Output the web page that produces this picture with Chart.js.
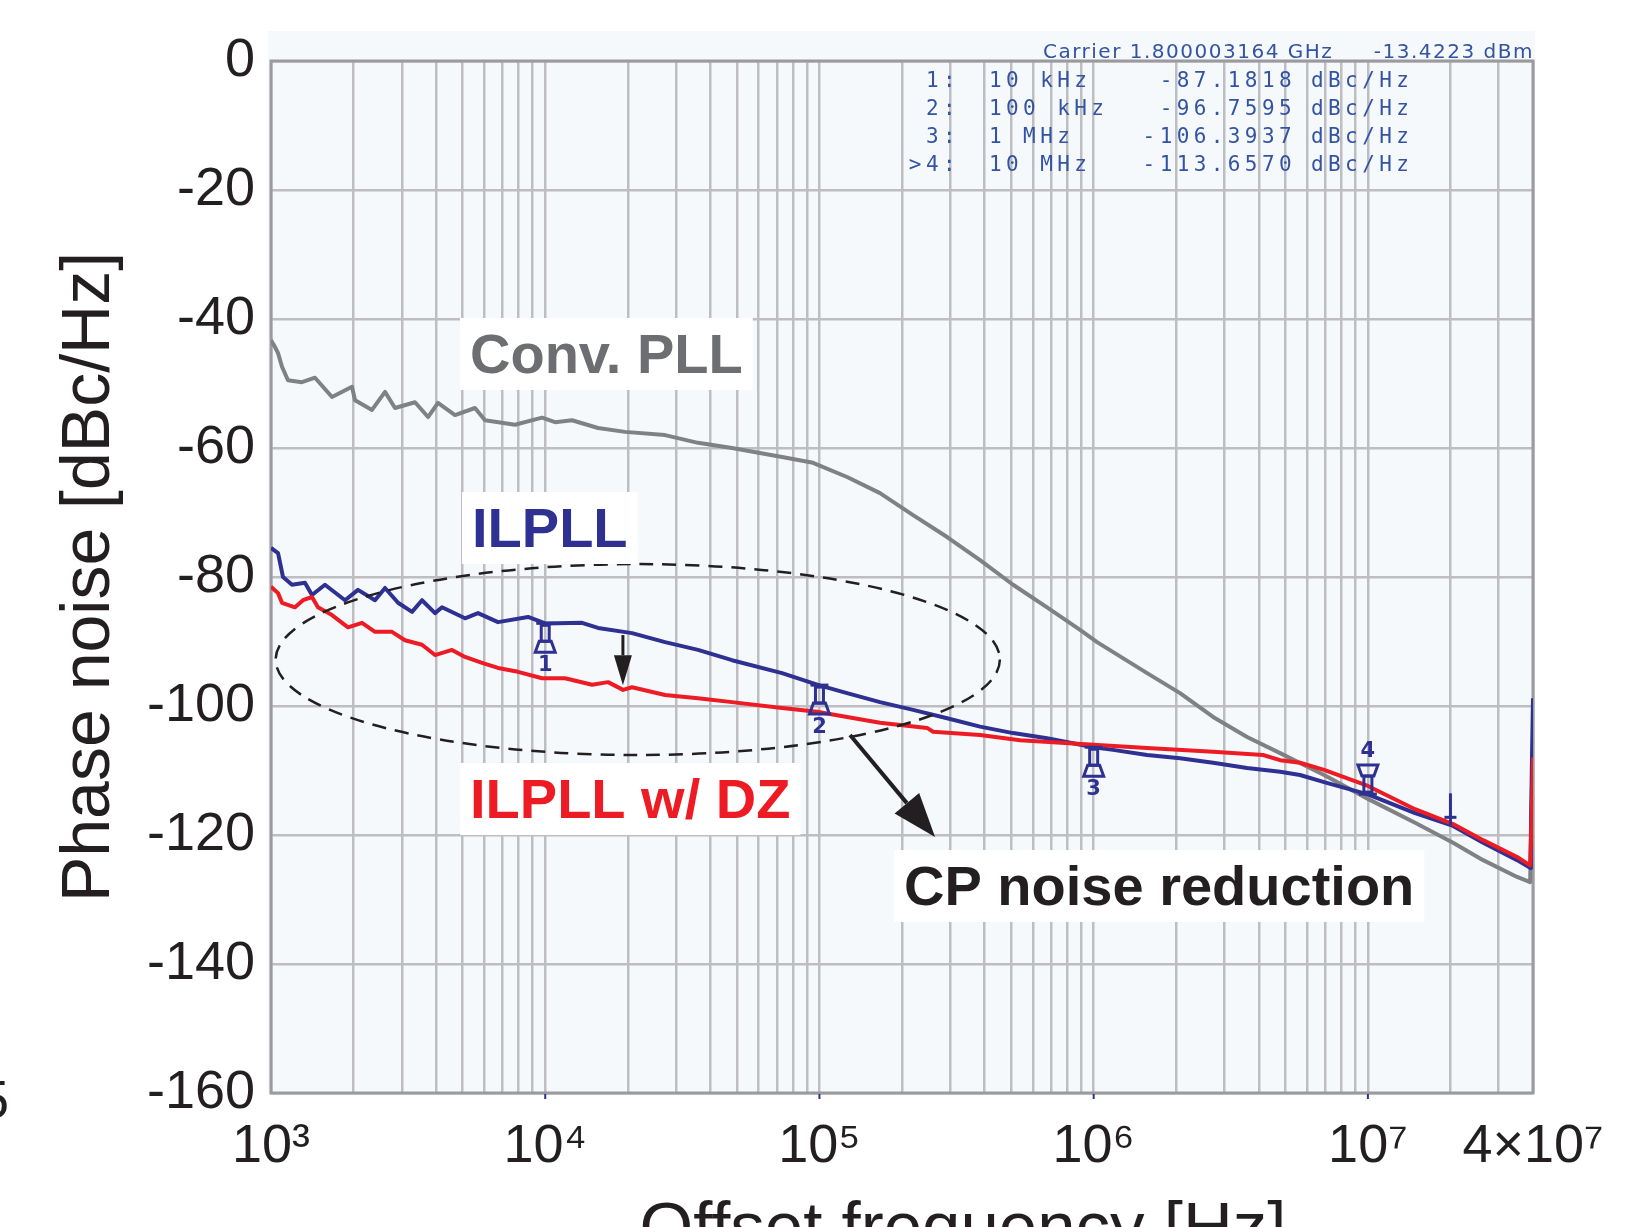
<!DOCTYPE html>
<html>
<head>
<meta charset="utf-8">
<script src="https://cdn.jsdelivr.net/npm/chart.js@4.4.0/dist/chart.umd.min.js"></script>
<style>
  html, body { margin: 0; padding: 0; background: #fff; overflow: hidden; }
  #wrap { width: 1652px; height: 1227px; }
</style>
</head>
<body>
<div id="wrap"><canvas id="chart" width="1652" height="1227"></canvas></div>
<script>
const FONT = "'Liberation Sans', Arial, Helvetica, sans-serif";
const INK = '#231f20';
const GRAY = '#808184', BLUE = '#2e3192', RED = '#ed1c24';
const GRID = '#bdbdc2';

// Conv. PLL
const convFreq = [1000, 1030, 1061, 1097, 1153, 1297, 1447, 1669, 1974, 2025, 2335, 2605, 2833, 3351, 3738, 4064, 4688, 5546, 6032, 7762, 9734, 10860, 12520, 15580, 19550, 27350, 36080, 48000, 73050, 94760, 126100, 166300, 219500, 292100, 385200, 508300, 676100, 892000, 1029000, 1566000, 2065000, 2725000, 3626000, 4784000, 6923000, 10000000, 14860000, 20450000, 26310000, 35010000, 39050000, 39400000, 40000000];
const convNoise = [-43.3, -44.2, -45.3, -47.4, -49.5, -49.8, -49.1, -52.1, -50.5, -52.6, -54.1, -51.3, -53.8, -52.9, -55.2, -53, -54.9, -53.8, -55.7, -56.4, -55.3, -56, -55.7, -56.9, -57.5, -58, -59.2, -60, -61.4, -62.3, -64.5, -67, -70.4, -73.8, -77.4, -81.2, -84.7, -88.2, -90.1, -94.9, -98, -101.7, -104.8, -107.3, -110.7, -114.4, -118.1, -121.2, -123.9, -126.5, -127.3, -118, -105];

// ILPLL
const ilFreq = [1000, 1061, 1106, 1193, 1330, 1411, 1573, 1862, 2076, 2395, 2605, 2906, 3268, 3554, 3964, 4204, 5099, 5687, 6728, 8656, 10000, 13620, 15580, 20730, 27350, 36080, 48000, 73050, 100000, 126100, 166300, 219500, 292100, 385200, 508300, 676100, 1000000, 1177000, 1566000, 2065000, 2725000, 3626000, 4784000, 5657000, 6923000, 10000000, 14860000, 20450000, 26310000, 35010000, 39050000, 39300000, 39600000, 40000000];
const ilNoise = [-75.5, -76.3, -80, -81.2, -80.9, -82.8, -81.2, -83.6, -82, -83.6, -81.7, -84, -85.4, -83.6, -85.6, -84.7, -86.4, -85.6, -87, -86.2, -87.2, -87.1, -87.9, -88.7, -90.1, -91.3, -92.9, -94.9, -96.8, -98, -99.4, -100.6, -101.9, -103.2, -104.2, -105, -106.4, -106.8, -107.6, -108.1, -108.8, -109.6, -110.2, -110.7, -111.8, -113.7, -116.6, -118.6, -121.2, -123.9, -125.1, -120, -110, -98.8];

// ILPLL w/ DZ
const dzFreq = [1000, 1061, 1097, 1223, 1308, 1411, 1483, 1669, 1909, 2147, 2395, 2762, 3081, 3554, 3964, 4572, 5099, 5882, 6728, 7960, 9734, 11810, 14820, 16950, 19220, 20730, 27350, 36080, 48000, 73050, 98000, 126100, 166300, 246900, 259700, 385200, 539000, 1000000, 1566000, 2725000, 4148000, 4784000, 5657000, 6923000, 10000000, 14860000, 20450000, 26310000, 35010000, 39050000, 39500000, 40000000];
const dzNoise = [-81.5, -82.5, -84, -84.7, -83.6, -83.1, -84.7, -85.9, -87.8, -87.1, -88.5, -88.5, -89.8, -90.5, -92.1, -91.3, -92.4, -93.3, -94.1, -94.7, -95.7, -95.7, -96.7, -96.3, -97.5, -97.1, -98.3, -98.8, -99.4, -100.3, -100.9, -101.7, -102.6, -103.4, -104, -104.5, -105.3, -106, -106.5, -107.1, -107.6, -108.4, -108.8, -109.9, -112.4, -116, -118.3, -120.8, -123.4, -124.7, -118, -108];

// analyzer markers (on ILPLL trace)
const markerFreq = [1e4, 1e5, 1e6, 1e7, 2e7];
const markerValue = [-87.1818, -96.7595, -106.3937, -113.6570, -118.5];
const markerName = ['1', '2', '3', '4', ''];
const markerIndex = ['1:', '2:', '3:', '>4:'];
const markerFreqText = ['10 kHz', '100 kHz', '1 MHz', '10 MHz'];

// axis ticks
const xGridValues = [1e3, 2e3, 3e3, 4e3, 5e3, 6e3, 7e3, 8e3, 9e3,
  1e4, 2e4, 3e4, 4e4, 5e4, 6e4, 7e4, 8e4, 9e4,
  1e5, 2e5, 3e5, 4e5, 5e5, 6e5, 7e5, 8e5, 9e5,
  1e6, 2e6, 3e6, 4e6, 5e6, 6e6, 7e6, 8e6, 9e6,
  1e7, 2e7, 3e7, 4e7];
const xLabelValues = [1e3, 1e4, 1e5, 1e6, 1e7, 4e7];
const xLabelTexts = ['10³', '10⁴', '10⁵', '10⁶', '10⁷', '4×10⁷'];

function pts(fs, vs) { return fs.map((f, i) => ({ x: f, y: vs[i] })); }

function arrow(ctx, x1, y1, x2, y2, lw, hl, hw) {
  const a = Math.atan2(y2 - y1, x2 - x1);
  const bx = x2 - hl * Math.cos(a), by = y2 - hl * Math.sin(a);
  ctx.lineWidth = lw;
  ctx.beginPath(); ctx.moveTo(x1, y1); ctx.lineTo(bx, by); ctx.stroke();
  ctx.beginPath();
  ctx.moveTo(x2, y2);
  ctx.lineTo(bx + hw / 2 * Math.sin(a), by - hw / 2 * Math.cos(a));
  ctx.lineTo(bx - hw / 2 * Math.sin(a), by + hw / 2 * Math.cos(a));
  ctx.closePath(); ctx.fill();
}

function tag(ctx, text, color, x, y) {
  ctx.font = 'bold 56px ' + FONT;
  const w = ctx.measureText(text).width;
  ctx.fillStyle = '#fff';
  ctx.fillRect(x - 10, y - 55, w + 20, 72);
  ctx.fillStyle = color;
  ctx.textAlign = 'left';
  ctx.textBaseline = 'alphabetic';
  ctx.fillText(text, x, y);
}

function marker(ctx, x, y, name, up) {
  const s = up ? -1 : 1;
  ctx.strokeStyle = BLUE; ctx.fillStyle = BLUE; ctx.lineWidth = 3;
  if (!name) {
    ctx.beginPath(); ctx.moveTo(x, y); ctx.lineTo(x, y - 32); ctx.stroke();
    ctx.beginPath(); ctx.moveTo(x - 6, y - 8); ctx.lineTo(x + 6, y - 8); ctx.stroke();
    return;
  }
  ctx.beginPath(); ctx.moveTo(x - 9, y); ctx.lineTo(x + 9, y); ctx.stroke();
  ctx.strokeRect(x - 4, Math.min(y + s * 2, y + s * 18), 8, 16);
  ctx.beginPath();
  ctx.moveTo(x - 6, y + s * 18); ctx.lineTo(x + 6, y + s * 18);
  ctx.lineTo(x + 10, y + s * 29); ctx.lineTo(x - 10, y + s * 29); ctx.closePath();
  ctx.stroke();
  ctx.font = 'bold 21px "DejaVu Sans", sans-serif';
  ctx.textAlign = 'center';
  ctx.textBaseline = up ? 'bottom' : 'top';
  ctx.fillText(name, x, y + s * 32);
}

const decor = {
  id: 'decor',
  beforeDraw(chart) {
    const { ctx, chartArea: a } = chart;
    ctx.save();
    ctx.fillStyle = '#fff';
    ctx.fillRect(0, 0, chart.width, chart.height);
    ctx.fillStyle = '#f6f9fc';
    ctx.fillRect(a.left - 3, a.top - 30, a.right - a.left + 5, a.bottom - a.top + 30);
    ctx.restore();
  },
  beforeDatasetsDraw(chart) {
    const { ctx, chartArea: a } = chart;
    const xs = chart.scales.x;
    ctx.save();
    ctx.strokeStyle = '#9a9a9f';
    ctx.lineWidth = 3;
    ctx.strokeRect(a.left, a.top, a.right - a.left, a.bottom - a.top);
    ctx.strokeStyle = BLUE; ctx.lineWidth = 2;
    markerFreq.slice(0, 4).forEach(f => {
      const x = xs.getPixelForValue(f);
      ctx.beginPath(); ctx.moveTo(x, a.bottom + 1); ctx.lineTo(x, a.bottom + 6); ctx.stroke();
    });
    ctx.restore();
  },
  afterDatasetsDraw(chart) {
    const { ctx } = chart;
    const xs = chart.scales.x, ys = chart.scales.y;
    const px = f => xs.getPixelForValue(f), py = v => ys.getPixelForValue(v);
    ctx.save();

    // dashed ellipse around the in-band region
    const l = px(1.04e3), r = px(4.55e5), t = py(-78), b = py(-107.6);
    ctx.strokeStyle = INK; ctx.lineWidth = 2.5; ctx.setLineDash([14, 9]);
    ctx.beginPath();
    ctx.ellipse((l + r) / 2, (t + b) / 2, (r - l) / 2, (b - t) / 2, 0, 0, Math.PI * 2);
    ctx.stroke();
    ctx.setLineDash([]);

    // arrows
    ctx.strokeStyle = INK; ctx.fillStyle = INK;
    arrow(ctx, px(1.92e4), py(-89), px(1.92e4), py(-96.8), 3, 30, 18);
    arrow(ctx, px(1.293e5), py(-104.5), px(2.64e5), py(-120.3), 4, 44, 32);

    // markers
    markerFreq.forEach((f, i) => marker(ctx, px(f), py(markerValue[i]), markerName[i], i === 3));

    // curve labels
    tag(ctx, 'Conv. PLL', '#6d6e71', px(5318), py(-48.37));
    tag(ctx, 'ILPLL', BLUE, px(5408), py(-75.35));
    tag(ctx, 'ILPLL w/ DZ', RED, px(5318), py(-117.36));
    tag(ctx, 'CP noise reduction', INK, px(2.034e5), py(-130.85));

    // analyzer header and marker table
    const a = chart.chartArea;
    ctx.fillStyle = '#3353a3';
    ctx.textBaseline = 'alphabetic';
    ctx.font = '20px "DejaVu Sans", sans-serif';
    ctx.letterSpacing = '1.5px';
    ctx.textAlign = 'left';
    ctx.fillText('Carrier 1.800003164 GHz', 1043, a.top - 3);
    ctx.textAlign = 'right';
    ctx.fillText('-13.4223 dBm', a.right + 1, a.top - 3);
    ctx.font = '21px "DejaVu Sans Mono", monospace';
    ctx.letterSpacing = '4.4px';
    markerIndex.forEach((m, i) => {
      const y = a.top + 26 + i * 28;
      ctx.textAlign = 'right'; ctx.fillText(m, 960, y);
      ctx.textAlign = 'left'; ctx.fillText(markerFreqText[i], 989, y);
      ctx.textAlign = 'right'; ctx.fillText(markerValue[i].toFixed(4), 1296, y);
      ctx.textAlign = 'left'; ctx.fillText('dBc/Hz', 1311, y);
    });
    ctx.letterSpacing = '0px';

    // x axis title (cropped at the bottom of the figure) and clipped neighbour text
    ctx.fillStyle = INK;
    ctx.font = '69px ' + FONT;
    ctx.textAlign = 'center';
    ctx.fillText('Offset frequency [Hz]', 963, 1250);
    ctx.font = '54px ' + FONT;
    ctx.textAlign = 'right';
    ctx.fillText('5', 9, 1118);
    ctx.restore();
  }
};

new Chart(document.getElementById('chart'), {
  type: 'line',
  data: {
    datasets: [
      { label: 'Conv. PLL', data: pts(convFreq, convNoise), borderColor: GRAY, borderWidth: 4, order: 3 },
      { label: 'ILPLL', data: pts(ilFreq, ilNoise), borderColor: BLUE, borderWidth: 4, order: 2 },
      { label: 'ILPLL w/ DZ', data: pts(dzFreq, dzNoise), borderColor: RED, borderWidth: 4, order: 1 }
    ]
  },
  options: {
    responsive: false,
    animation: false,
    devicePixelRatio: 1,
    layout: { padding: { left: 0, right: 119, top: 61, bottom: 0 } },
    plugins: { legend: { display: false }, tooltip: { enabled: false } },
    elements: {
      point: { radius: 0 },
      line: { tension: 0, borderJoinStyle: 'round', fill: false }
    },
    scales: {
      x: {
        type: 'logarithmic',
        min: 1e3,
        max: 4e7,
        afterBuildTicks: s => { s.ticks = xGridValues.map(v => ({ value: v })); },
        afterFit: s => { s.height = 134; },
        grid: { color: GRID, lineWidth: 2.5, drawTicks: false },
        border: { display: false },
        ticks: {
          autoSkip: false, maxRotation: 0, padding: 22, color: INK,
          font: { family: FONT, size: 54 },
          callback: v => { const i = xLabelValues.indexOf(v); return i < 0 ? '' : xLabelTexts[i]; }
        }
      },
      y: {
        type: 'linear',
        min: -160,
        max: 0,
        afterFit: s => { s.width = 271; },
        grid: { color: GRID, lineWidth: 2.5, drawTicks: false },
        border: { display: false },
        ticks: {
          stepSize: 10, padding: 16, color: INK,
          font: { family: FONT, size: 54 },
          callback: v => (v % 20 === 0 ? String(v) : '')
        },
        title: {
          display: true, text: 'Phase noise [dBc/Hz]', color: INK,
          font: { family: FONT, size: 68 }, padding: { top: 49, bottom: 0 }
        }
      }
    }
  },
  plugins: [decor]
});
</script>
</body>
</html>
